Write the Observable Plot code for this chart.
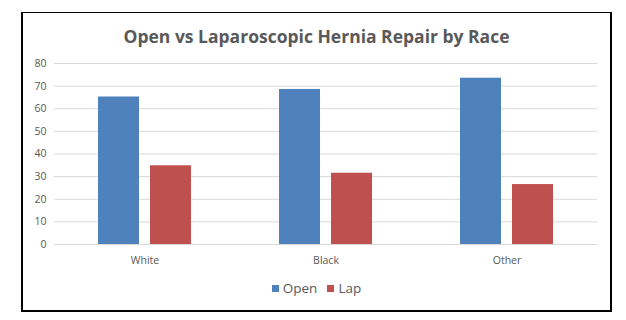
<!DOCTYPE html>
<html><head><meta charset="utf-8">
<script src="https://cdn.jsdelivr.net/npm/d3@7"></script>
<script src="https://cdn.jsdelivr.net/npm/@observablehq/plot@0.6"></script>
<style>
body{margin:0;background:#fff;font-family:"Open Sans",sans-serif;width:626px;height:320px;position:relative;overflow:hidden;}
#chart{position:absolute;left:0;top:0;}
#frame{position:absolute;left:21px;top:12px;width:591px;height:300px;box-sizing:border-box;border:2px solid #000;border-top-width:1px;pointer-events:none;}
#title{position:absolute;left:21px;top:23px;width:591px;text-align:center;font-size:17.5px;font-weight:700;color:#595959;line-height:26px;}
#legend{position:absolute;left:21px;top:279px;width:591px;display:flex;justify-content:center;align-items:center;font-size:13.5px;color:#595959;line-height:18px;}
.item{display:flex;align-items:center;margin:0 5px;}
.sw{width:7px;height:7px;margin-right:4px;display:inline-block;}
</style>
</head><body>
<div id="chart"></div>
<div id="title">Open vs Laparoscopic Hernia Repair by Race</div>
<div id="legend"></div>
<div id="frame"></div>
<script>
const races = ["White", "Black", "Other"];
const openValues = [65.2, 68.5, 73.5];
const lapValues = [34.8, 31.5, 26.5];
const series = ["Open", "Lap"];
const colors = ["#4F81BD", "#C0504D"];
const yTicks = [0, 10, 20, 30, 40, 50, 60, 70, 80];

const data = [];
races.forEach((r, i) => {
  data.push({race: r, series: series[0], value: openValues[i]});
  data.push({race: r, series: series[1], value: lapValues[i]});
});

const chart = Plot.plot({
  width: 626,
  height: 275,
  marginLeft: 54,
  marginRight: 29,
  marginTop: 63,
  marginBottom: 31,
  style: {background: "transparent", fontFamily: "Open Sans, sans-serif", fontSize: "10.5px", color: "#595959"},
  fx: {domain: races, padding: 0, label: null, axis: "bottom", tickSize: 0, tickPadding: 12},
  x: {domain: series, axis: null, paddingInner: 0.2115, paddingOuter: 0.846},
  y: {domain: [0, 80], axis: null},
  color: {domain: series, range: colors},
  marks: [
    Plot.gridY(yTicks, {stroke: "#D9D9D9", strokeOpacity: 1}),
    Plot.axisY(yTicks, {tickSize: 0, tickPadding: 8, label: null, fill: "#595959"}),
    Plot.barY(data, {fx: "race", x: "series", y: "value", fill: "series"})
  ]
});
document.getElementById("chart").appendChild(chart);

const legend = document.getElementById("legend");
series.forEach((s, i) => {
  const item = document.createElement("span");
  item.className = "item";
  const sw = document.createElement("span");
  sw.className = "sw";
  sw.style.background = colors[i];
  item.appendChild(sw);
  item.appendChild(document.createTextNode(s));
  legend.appendChild(item);
});
</script>
</body></html>
